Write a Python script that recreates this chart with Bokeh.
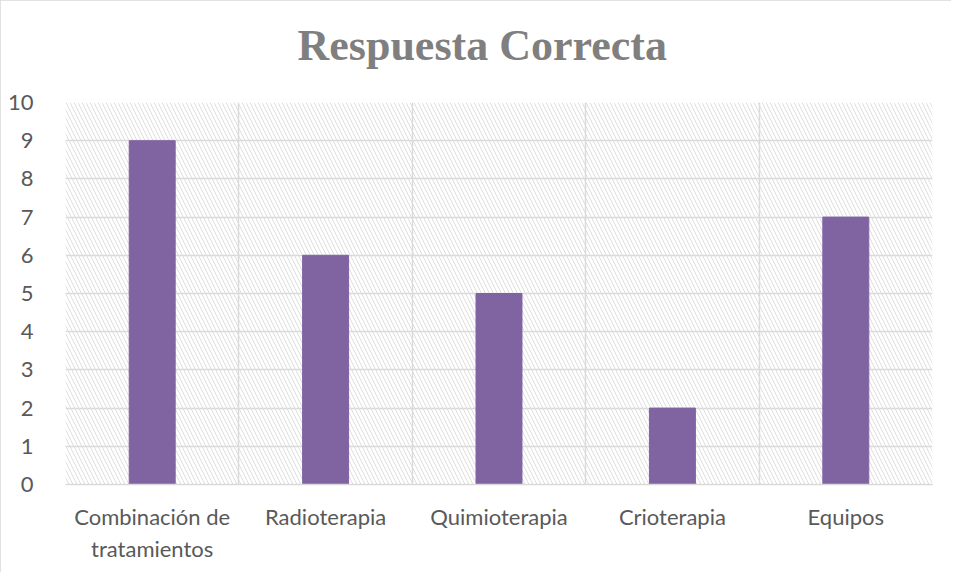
from bokeh.plotting import figure
from bokeh.models import Range1d, FixedTicker, BoxAnnotation, Title
from bokeh.embed import file_html
from bokeh.resources import INLINE

title_text = "Respuesta Correcta"
categories = ["Combinación de\ntratamientos", "Radioterapia", "Quimioterapia", "Crioterapia", "Equipos"]
values = [9, 6, 5, 2, 7]
y_ticks = list(range(0, 11))

positions = [i + 1 for i in range(len(categories))]

p = figure(width=951, height=572, output_backend="svg", toolbar_location=None,
           title_location=None,
           x_range=Range1d(0.5, len(categories) + 0.5), y_range=Range1d(0, 10),
           min_border_left=65, min_border_right=19, min_border_top=102, min_border_bottom=88)
p.styles = {"outline": "2px solid #d9d9d9", "outline-offset": "-2px"}

p.outline_line_color = None
p.background_fill_color = "white"

spacer = Title(text=" ", text_font_size="1px", standoff=30)
main_title = Title(text=title_text, align="left", offset=232, standoff=0,
                   text_font="Liberation Serif", text_font_style="bold",
                   text_font_size="44px", text_color="#7f7f7f")
p.add_layout(spacer, "above")
p.add_layout(main_title, "above")

p.add_layout(BoxAnnotation(left=0.5, right=len(categories) + 0.5, bottom=0, top=10,
                           fill_alpha=0, line_color=None,
                           hatch_pattern="left_diagonal_line", hatch_color="#dedede",
                           hatch_scale=8, hatch_weight=1, level="underlay"))

p.vbar(x=positions, top=values, width=0.265, color="#8064a2")

p.xaxis.ticker = FixedTicker(ticks=positions)
p.xaxis.major_label_overrides = {pos: c for pos, c in zip(positions, categories)}
p.xgrid.ticker = FixedTicker(ticks=[i + 0.5 for i in range(len(categories) + 1)])
p.yaxis.ticker = FixedTicker(ticks=y_ticks)

for g in (p.xgrid, p.ygrid):
    g.grid_line_color = "#d9d9d9"
    g.grid_line_width = 1.5

for ax in (p.xaxis, p.yaxis):
    ax.major_tick_line_color = None
    ax.minor_tick_line_color = None
    ax.major_label_text_font = "Lato"
    ax.major_label_text_font_size = "22px"
    ax.major_label_text_color = "#595959"

p.yaxis.axis_line_color = None
p.xaxis.axis_line_color = "#d9d9d9"
p.xaxis.axis_line_width = 1.5
p.yaxis.major_label_standoff = 26
p.xaxis.major_label_standoff = 12

open("out.html", "w").write(file_html(p, INLINE))
